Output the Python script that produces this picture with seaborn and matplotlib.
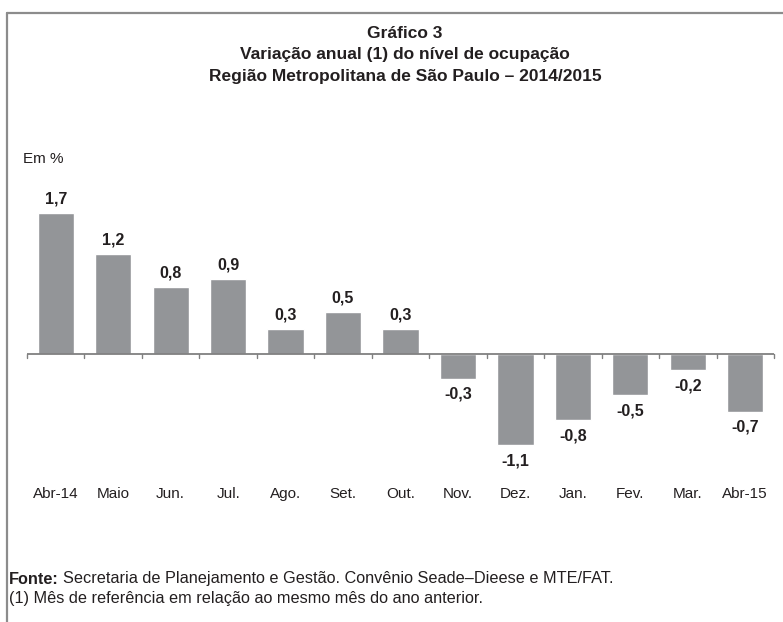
"""
Gráfico 3 - Variação anual do nível de ocupação, RMSP 2014/2015.
"""

import matplotlib
matplotlib.use("Agg")
import matplotlib.pyplot as plt
from matplotlib.lines import Line2D
import pandas as pd
import seaborn as sns

meses = ["Abr-14", "Maio", "Jun.", "Jul.", "Ago.", "Set.", "Out.",
         "Nov.", "Dez.", "Jan.", "Fev.", "Mar.", "Abr-15"]
variacao = [1.7, 1.2, 0.8, 0.9, 0.3, 0.5, 0.3,
            -0.3, -1.1, -0.8, -0.5, -0.2, -0.7]
rotulos = ["1,7", "1,2", "0,8", "0,9", "0,3", "0,5", "0,3",
           "-0,3", "-1,1", "-0,8", "-0,5", "-0,2", "-0,7"]

sns.set_theme(style="white")
plt.rcParams["font.family"] = ["Liberation Sans Narrow", "Liberation Sans", "DejaVu Sans"]

W, H = 783, 622
TXT = "#231f20"
fig = plt.figure(figsize=(W / 100, H / 100), dpi=100)

# axes placé en pixels : x de 27 à 774, y de 188 à 478 (0 à y=354)
AX_L, AX_R = 27, 774
ax = fig.add_axes([AX_L / W, (H - 478) / H, (AX_R - AX_L) / W, 290 / H])

df = pd.DataFrame({"mes": meses, "valor": variacao})
sns.barplot(data=df, x="mes", y="valor", color="#939598", saturation=1,
            width=0.63, ax=ax)

ax.set_xlim(-0.5, len(meses) - 0.5)
ax.set_ylim(-1.5, 2.0)
ax.set_xlabel("")
ax.set_ylabel("")
ax.set_yticks([])
ax.set_xticks([])
for s in ax.spines.values():
    s.set_visible(False)

# ligne de base et graduations
ax.axhline(0, color="#808080", lw=1.3)
for i in range(len(meses) + 1):
    ax.plot([i - 0.5, i - 0.5], [0, -0.05], color="#808080", lw=1.0,
            clip_on=False)

# étiquettes de valeurs
for i, (v, t) in enumerate(zip(variacao, rotulos)):
    off = 0.17 if v >= 0 else -0.19
    ax.text(i, v + off, t, ha="center", va="center", fontsize=11.5,
            fontweight="bold", color=TXT)

# libellés des mois
step = (AX_R - AX_L) / len(meses)
for i, m in enumerate(meses):
    fig.text((AX_L + (i + 0.5) * step) / W, 1 - 494 / H, m, ha="center",
             va="center", fontsize=11, color=TXT)

# titre
titre = ["Gráfico 3", "Variação anual (1) do nível de ocupação",
         "Região Metropolitana de São Paulo – 2014/2015"]
for k, ligne in enumerate(titre):
    fig.text(405 / W, 1 - (34 + 21 * k) / H, ligne, ha="center", va="center",
             fontsize=12.5, fontweight="bold", color=TXT)

fig.text(23 / W, 1 - 159 / H, "Em %", ha="left", va="center", fontsize=11,
         color=TXT)

# source et note
fonte = fig.text(9 / W, 1 - 579 / H, "Fonte:", ha="left", va="center",
                 fontsize=11.7, fontweight="bold", color=TXT)
fig.canvas.draw()
x_fin = fonte.get_window_extent(fig.canvas.get_renderer()).x1
fig.text((x_fin + 4) / W, 1 - 579 / H,
         "Secretaria de Planejamento e Gestão. Convênio Seade–Dieese e MTE/FAT.",
         ha="left", va="center", fontsize=11.7, color=TXT)
fig.text(9 / W, 1 - 598 / H,
         "(1) Mês de referência em relação ao mesmo mês do ano anterior.",
         ha="left", va="center", fontsize=11.7, color=TXT)

# cadre gris (haut et gauche)
fig.add_artist(Line2D([7 / W, 1], [1 - 12.5 / H, 1 - 12.5 / H],
                      color="#8c8c8c", lw=1.6, transform=fig.transFigure))
fig.add_artist(Line2D([7 / W, 7 / W], [0, 1 - 12.5 / H],
                      color="#8c8c8c", lw=1.6, transform=fig.transFigure))

fig.savefig("out.png", dpi=100)
